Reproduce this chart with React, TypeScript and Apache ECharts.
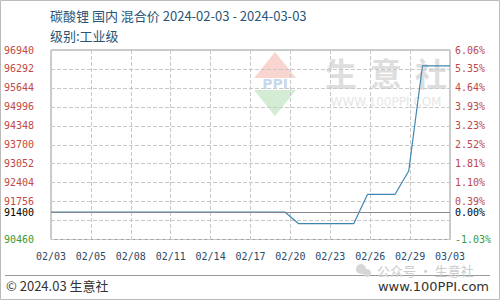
import React, { useEffect, useRef } from "react";
import * as echarts from "echarts";

const dates = [
  "02/03", "02/04", "02/05", "02/06", "02/07", "02/08", "02/09", "02/10",
  "02/11", "02/12", "02/13", "02/14", "02/15", "02/16", "02/17", "02/18",
  "02/19", "02/20", "02/21", "02/22", "02/23", "02/24", "02/25", "02/26",
  "02/27", "02/28", "02/29", "03/01", "03/02", "03/03",
];
const prices = [
  91400, 91400, 91400, 91400, 91400, 91400, 91400, 91400,
  91400, 91400, 91400, 91400, 91400, 91400, 91400, 91400,
  91400, 91400, 91000, 91000, 91000, 91000, 91000, 92000,
  92000, 92000, 92800, 96400, 96400, 96400,
];
const baseValue = 91400;
const axisMin = 90460;
const axisMax = 96940;
const axisStep = 648;
const hiddenTick = 91108;

const MONO = "DejaVu Sans Mono";
const CJK = "Noto Sans CJK SC";

export default function App() {
  const ref = useRef<HTMLDivElement>(null);
  useEffect(() => {
    document.body.style.margin = "0";
    if (!ref.current) return;
    const chart = echarts.init(ref.current, null, { renderer: "svg" });
    const seriesData = prices.map((p, i) => [i, p - axisMin]);
    const red = "#c04848";
    const green = "#3a9a3a";
    const leftFmt = (v: number) => {
      const real = Math.round(v + axisMin);
      if (real === hiddenTick) return "";
      return real < baseValue ? `{g|${real}}` : `{r|${real}}`;
    };
    const rightFmt = (v: number) => {
      const real = Math.round(v + axisMin);
      if (real === hiddenTick) return "";
      const pct = ((real / baseValue - 1) * 100).toFixed(2) + "%";
      return real < baseValue ? `{g|${pct}}` : `{r|${pct}}`;
    };
    const rich = {
      r: { color: red, fontFamily: MONO, fontSize: 10 },
      g: { color: green, fontFamily: MONO, fontSize: 10 },
    };
    chart.setOption({
      animation: false,
      backgroundColor: "#ffffff",
      grid: {
        left: 51,
        right: 50,
        top: 50,
        bottom: 60.5,
        show: true,
        borderColor: "#999999",
        borderWidth: 1,
        backgroundColor: "transparent",
      },
      xAxis: {
        type: "value",
        min: 0,
        max: dates.length - 1,
        interval: 2.9,
        axisLine: { show: false },
        axisTick: { show: false },
        splitLine: { show: true, lineStyle: { type: "dashed", color: "#c8c8c8", width: 1 } },
        axisLabel: {
          margin: 12,
          fontFamily: MONO,
          fontSize: 10,
          color: "#2d4a66",
          formatter: (v: number) => dates[Math.floor(v + 1e-6)] ?? "",
        },
      },
      yAxis: [
        {
          type: "value",
          min: 0,
          max: axisMax - axisMin,
          interval: axisStep,
          axisLine: { show: false },
          axisTick: { show: false },
          splitLine: { show: true, lineStyle: { type: "dashed", color: "#c8c8c8", width: 1 } },
          axisLabel: { margin: 17, formatter: leftFmt, rich },
        },
        {
          type: "value",
          min: 0,
          max: axisMax - axisMin,
          interval: axisStep,
          position: "right",
          axisLine: { show: false },
          axisTick: { show: false },
          splitLine: { show: false },
          axisLabel: { margin: 5, formatter: rightFmt, rich },
        },
      ],
      series: [
        {
          type: "line",
          data: seriesData,
          symbol: "none",
          lineStyle: { color: "#3f86b0", width: 1.2 },
          z: 3,
          markLine: {
            silent: true,
            symbol: "none",
            lineStyle: { type: "solid", color: "#888888", width: 1 },
            data: [
              {
                yAxis: baseValue - axisMin,
                label: {
                  show: true,
                  position: "start",
                  distance: 17,
                  formatter: String(baseValue),
                  color: "#000000",
                  fontFamily: MONO,
                  fontSize: 10,
                  fontWeight: "normal",
                },
              },
              {
                yAxis: baseValue - axisMin,
                label: {
                  show: true,
                  position: "end",
                  distance: 5,
                  formatter: "0.00%",
                  color: "#000000",
                  fontFamily: MONO,
                  fontSize: 10,
                  fontWeight: "normal",
                },
              },
            ],
          },
        },
      ],
      graphic: [
        {
          type: "rect",
          z: -5,
          shape: { x: 0.5, y: 0.5, width: 499, height: 299 },
          style: { fill: "none", stroke: "#bbbbbb", lineWidth: 1 },
        },
        {
          type: "polygon",
          z: -5,
          shape: { points: [[275, 52], [296, 78], [254, 78]] },
          style: { fill: "#f8d6cf" },
        },
        {
          type: "polygon",
          z: -5,
          shape: { points: [[254, 90], [296, 90], [275, 116]] },
          style: { fill: "#d3ecd3" },
        },
        {
          type: "text",
          z: -5,
          x: 275,
          y: 84,
          style: {
            text: "PPI",
            fill: "#c9d7ea",
            font: "bold 14px DejaVu Sans",
            align: "center",
            verticalAlign: "middle",
          },
        },
        ...["生", "意", "社"].map((ch, i) => ({
          type: "text",
          z: -5,
          x: 341 + i * 45,
          y: 72,
          style: {
            text: ch,
            fill: "#dedede",
            font: `bold 32px ${CJK}`,
            align: "center",
            verticalAlign: "middle",
          },
        })),
        {
          type: "text",
          z: -5,
          x: 386,
          y: 102,
          style: {
            text: "WWW.100PPI.COM",
            fill: "#e6e6e6",
            font: "12px DejaVu Sans",
            align: "center",
            verticalAlign: "middle",
          },
        },
        {
          type: "text",
          x: 50,
          y: 15,
          style: {
            text: "碳酸锂 国内 混合价 2024-02-03 - 2024-03-03",
            fill: "#2a5576",
            font: `13px ${CJK}`,
            verticalAlign: "middle",
          },
        },
        {
          type: "text",
          x: 50,
          y: 35,
          style: {
            text: "级别:工业级",
            fill: "#2a5576",
            font: `13px ${CJK}`,
            verticalAlign: "middle",
          },
        },
        {
          type: "line",
          shape: { x1: 5, y1: 275.5, x2: 490, y2: 275.5 },
          style: { stroke: "#999999", lineWidth: 1 },
        },
        {
          type: "circle",
          shape: { cx: 361, cy: 269, r: 5 },
          style: { fill: "#d6d6d6" },
        },
        {
          type: "circle",
          shape: { cx: 367, cy: 273, r: 4 },
          style: { fill: "#d6d6d6" },
        },
        {
          type: "text",
          x: 377,
          y: 270,
          style: {
            text: "公众号 · 生意社",
            fill: "#cccccc",
            font: `13px ${CJK}`,
            verticalAlign: "middle",
          },
        },
        {
          type: "text",
          x: 6,
          y: 285,
          style: {
            text: "© 2024.03 生意社",
            fill: "#333333",
            font: `13px ${CJK}`,
            verticalAlign: "middle",
          },
        },
        {
          type: "text",
          x: 489,
          y: 286,
          style: {
            text: "www.100PPI.com",
            fill: "#333333",
            font: "13px DejaVu Sans",
            align: "right",
            verticalAlign: "middle",
          },
        },
      ],
    });
    return () => chart.dispose();
  }, []);
  return <div ref={ref} style={{ width: 500, height: 300 }} />;
}
